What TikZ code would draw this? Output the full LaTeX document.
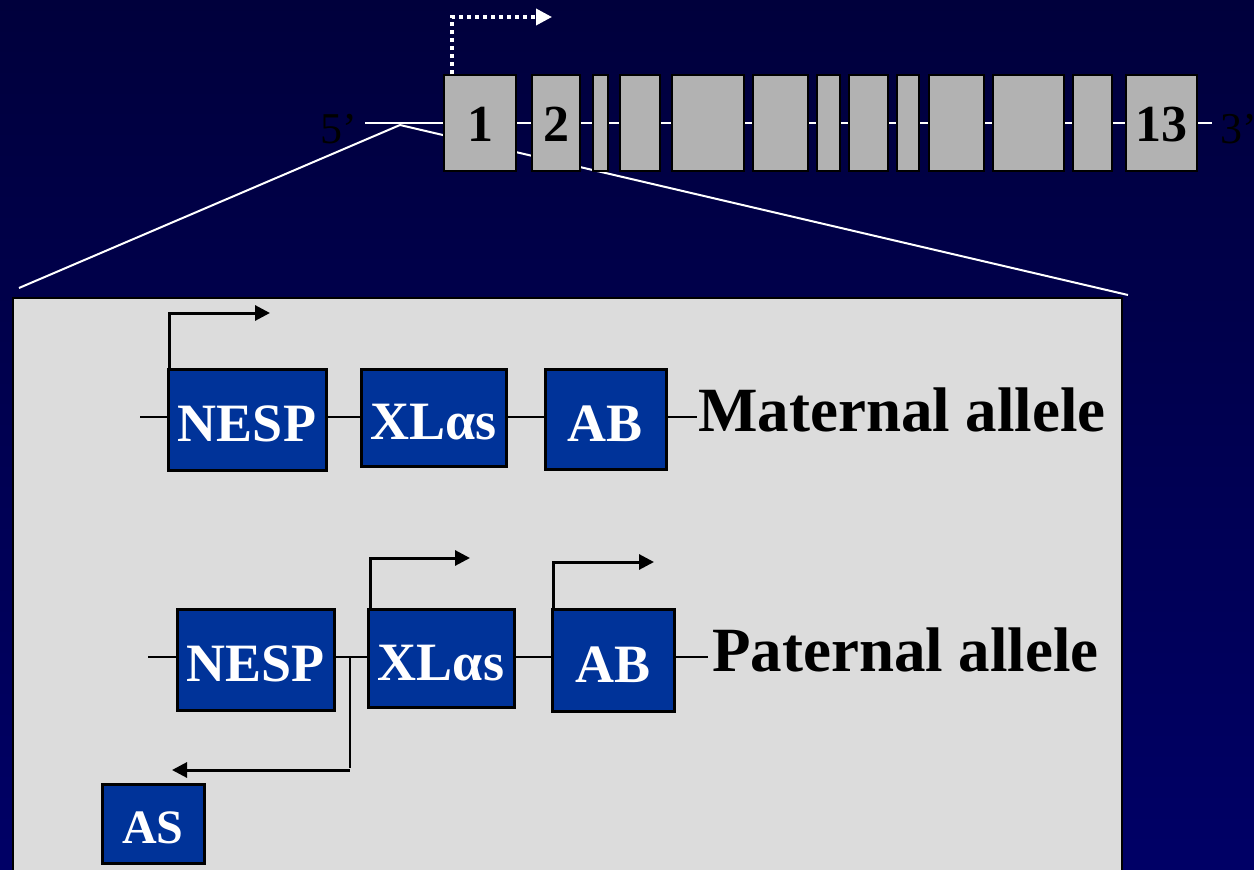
\documentclass[tikz,border=0pt]{standalone}
\usepackage{fontspec}
\setmainfont{Liberation Serif}
\usetikzlibrary{arrows.meta,calc}

\definecolor{navytop}{RGB}{0,0,60}
\definecolor{navybot}{RGB}{0,0,102}
\definecolor{exongray}{RGB}{178,178,178}
\definecolor{panelgray}{RGB}{220,220,220}
\definecolor{boxblue}{RGB}{0,51,153}

\tikzset{
  exon/.style={rectangle, draw=black, line width=2pt, fill=exongray, inner sep=0pt,
    font=\fontsize{52}{56}\selectfont\bfseries, text height=37pt, text depth=0pt},
  exonnum/.style={inner sep=0pt, font=\fontsize{52}{56}\selectfont\bfseries, text height=37pt, text depth=0pt},
  genebox/.style={rectangle, draw=black, line width=3pt, fill=boxblue, text=white, inner sep=0pt,
    font=\fontsize{54}{58}\selectfont\bfseries, text height=44pt, text depth=0pt},
  allele/.style={anchor=base west, inner sep=0pt, font=\fontsize{63}{66}\selectfont\bfseries},
  endlabel/.style={anchor=base west, inner sep=0pt, font=\fontsize{44}{48}\selectfont},
  strand/.style={line width=2pt, black},
  tss/.style={line width=3pt, black, -{Triangle[length=15pt,width=15pt]}},
  zoomline/.style={white, line width=2pt},
}

\begin{document}
\begin{tikzpicture}[x=1pt,y=-1pt]
\useasboundingbox (0,0) rectangle (1254,870);
\clip (0,0) rectangle (1254,870);

% background
\shade[top color=navytop, bottom color=navybot] (0,0) rectangle (1254,870);

% gene map: backbone, zoom wedge, exons
\coordinate (five) at (365,123);
\coordinate (three) at (1212,123);
\coordinate (apex) at (400,125);
\coordinate (wedgeL) at (19,288);
\coordinate (wedgeR) at (1128,295);
\draw[zoomline] (apex) -- (wedgeL);
\draw[zoomline] (apex) -- (wedgeR);
\draw[white, line width=2pt] (five) -- (three);

\node[endlabel] (lab5) at (320,143) {5’};
\node[endlabel] (lab3) at (1220,143) {3’};

\foreach \a/\b [count=\i] in {444/516,532/580,593/608,620/660,672/744,753/808,817/840,849/888,897/919,929/984,993/1064,1073/1112,1126/1197}{
  \node[exon, minimum width={(\b-\a)*1pt}, minimum height=96pt] (e\i) at ({(\a+\b)/2},123) {};
}
\node[exonnum] (n1) at (e1) {1};
\node[exonnum] (n2) at (e2) {2};
\node[exonnum] (n13) at (e13) {13};

% dotted start of transcription
\coordinate (dotcorner) at (452,17);
\coordinate (dottip) at (552,17);
\draw[white, line width=3.5pt, dash pattern=on 4pt off 4pt, -{Triangle[length=16pt,width=16pt]}]
  (e1.north west -| dotcorner) -- (dotcorner) -- (dottip);

% enlarged panel
\draw[fill=panelgray, line width=2pt] (13,298) rectangle (1122,900);

% maternal allele
\coordinate (m0) at (140,417);
\coordinate (m1) at (697,417);
\draw[strand] (m0) -- (m1);
\node[genebox, minimum width=158pt, minimum height=101pt] (mNESP) at (247,419.5) {NESP};
\node[genebox, minimum width=145pt, minimum height=97pt] (mXL) at (433.5,417.5) {XLαs};
\node[genebox, minimum width=121pt, minimum height=100pt] (mAB) at (605.5,419) {AB};
\node[allele] (mlab) at (698,431) {Maternal allele};

\coordinate (mNup) at (169.5,313);
\coordinate (mNtip) at (270,313);
\draw[tss] (mNESP.north west -| mNup) -- (mNup) -- (mNtip);

% paternal allele
\coordinate (p0) at (148,657);
\coordinate (p1) at (708,657);
\draw[strand] (p0) -- (p1);
\node[genebox, minimum width=157pt, minimum height=101pt] (pNESP) at (255.5,659.5) {NESP};
\node[genebox, minimum width=146pt, minimum height=98pt] (pXL) at (441,658) {XLαs};
\node[genebox, minimum width=122pt, minimum height=102pt] (pAB) at (613,660) {AB};
\node[genebox, minimum width=102pt, minimum height=79pt, font=\fontsize{48}{52}\selectfont\bfseries, text height=40pt] (pAS) at (153,823.5) {AS};
\node[allele] (plab) at (712,671) {Paternal allele};

\coordinate (pXup) at (370,558);
\coordinate (pXtip) at (470,558);
\draw[tss] (pXL.north west -| pXup) -- (pXup) -- (pXtip);

\coordinate (pBup) at (553.5,562);
\coordinate (pBtip) at (654,562);
\draw[tss] (pAB.north west -| pBup) -- (pBup) -- (pBtip);

% antisense transcript
\coordinate (asdrop) at (349.5,657);
\coordinate (ascorner) at (349.5,770);
\coordinate (astip) at (172,770);
\draw[line width=2pt] (asdrop) -- ([yshift=2pt]ascorner);
\draw[tss] (ascorner) -- (astip);
\end{tikzpicture}
\end{document}
